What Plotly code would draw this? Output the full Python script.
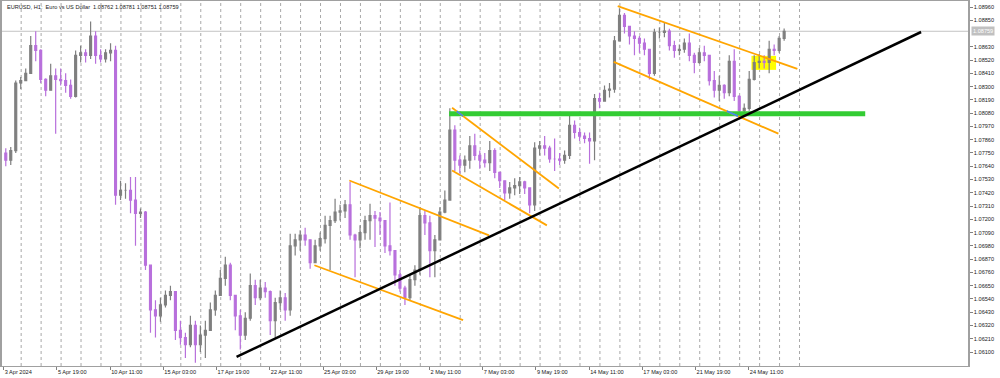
import plotly.graph_objects as go

# ---------------- data ----------------
chart_title = "EURUSD, H1:\u00a0\u00a0Euro vs US Dollar\u00a0\u00a01.08762 1.08781 1.08751 1.08759"
h1_per_candle = 6          # each drawn candle aggregates six H1 bars

first_open = 1.0775
close = [
    1.0769, 1.0777, 1.0833, 1.0835, 1.0841, 1.0864, 1.0860, 1.0836, 1.0827, 1.0839,
    1.0836, 1.0835, 1.0831, 1.0822, 1.0856, 1.0858, 1.0856, 1.0872, 1.0856, 1.0853,
    1.0858, 1.0860, 1.0740, 1.0744, 1.0744, 1.0736, 1.0725, 1.0726, 1.0682, 1.0645,
    1.0640, 1.0649, 1.0657, 1.0660, 1.0628, 1.0622, 1.0616, 1.0632, 1.0616, 1.0624,
    1.0628, 1.0645, 1.0657, 1.0671, 1.0682, 1.0657, 1.0640, 1.0624, 1.0638, 1.0665,
    1.0655, 1.0663, 1.0660, 1.0636, 1.0651, 1.0655, 1.0645, 1.0698, 1.0703, 1.0707,
    1.0703, 1.0684, 1.0698, 1.0704, 1.0715, 1.0719, 1.0726, 1.0727, 1.0732, 1.0707,
    1.0703, 1.0709, 1.0719, 1.0723, 1.0721, 1.0719, 1.0698, 1.0694, 1.0674, 1.0663,
    1.0655, 1.0670, 1.0678, 1.0723, 1.0717, 1.0694, 1.0703, 1.0726, 1.0736, 1.0794,
    1.0769, 1.0765, 1.0769, 1.0781, 1.0773, 1.0769, 1.0767, 1.0777, 1.0759, 1.0752,
    1.0742, 1.0746, 1.0748, 1.0751, 1.0746, 1.0732, 1.0779, 1.0781, 1.0779, 1.0770,
    1.0770, 1.0769, 1.0773, 1.0798, 1.0792, 1.0789, 1.0787, 1.0785, 1.0820, 1.0818,
    1.0827, 1.0828, 1.0868, 1.0889, 1.0880, 1.0872, 1.0870, 1.0866, 1.0861, 1.0841,
    1.0875, 1.0875, 1.0876, 1.0864, 1.0860, 1.0861, 1.0866, 1.0856, 1.0850, 1.0858,
    1.0856, 1.0835, 1.0827, 1.0831, 1.0825, 1.0851, 1.0822, 1.0810, 1.0812, 1.0836,
    1.0850, 1.0851, 1.0850, 1.0861, 1.0860, 1.0870, 1.08759]
high = [
    1.0779, 1.0780, 1.0835, 1.0838, 1.0845, 1.0872, 1.0876, 1.0861, 1.0837, 1.0849,
    1.0845, 1.0845, 1.0841, 1.0836, 1.0860, 1.0864, 1.0861, 1.0884, 1.0876, 1.0861,
    1.0861, 1.0866, 1.0864, 1.0752, 1.0750, 1.0755, 1.0755, 1.0729, 1.0727, 1.0682,
    1.0653, 1.0655, 1.0661, 1.0665, 1.0660, 1.0636, 1.0626, 1.0640, 1.0636, 1.0632,
    1.0636, 1.0651, 1.0661, 1.0678, 1.0689, 1.0684, 1.0657, 1.0645, 1.0643, 1.0675,
    1.0670, 1.0670, 1.0668, 1.0661, 1.0655, 1.0661, 1.0659, 1.0708, 1.0708, 1.0711,
    1.0713, 1.0703, 1.0703, 1.0709, 1.0723, 1.0723, 1.0737, 1.0732, 1.0736, 1.0751,
    1.0708, 1.0715, 1.0723, 1.0733, 1.0727, 1.0726, 1.0719, 1.0734, 1.0694, 1.0678,
    1.0665, 1.0674, 1.0682, 1.0730, 1.0727, 1.0723, 1.0707, 1.0730, 1.0744, 1.0812,
    1.0798, 1.0773, 1.0773, 1.0789, 1.0791, 1.0777, 1.0775, 1.0785, 1.0779, 1.0759,
    1.0752, 1.0751, 1.0754, 1.0755, 1.0752, 1.0746, 1.0784, 1.0785, 1.0789, 1.0781,
    1.0787, 1.0775, 1.0777, 1.0806, 1.0802, 1.0796, 1.0792, 1.0792, 1.0824, 1.0825,
    1.0831, 1.0833, 1.0872, 1.0895, 1.0891, 1.0880, 1.0876, 1.0872, 1.0870, 1.0861,
    1.0878, 1.0879, 1.0883, 1.0878, 1.0868, 1.0865, 1.0870, 1.0874, 1.0858, 1.0862,
    1.0864, 1.0856, 1.0843, 1.0839, 1.0832, 1.0856, 1.0861, 1.0823, 1.0816, 1.0843,
    1.0856, 1.0857, 1.0856, 1.0868, 1.0865, 1.0872, 1.08781]
low = [
    1.0764, 1.0765, 1.0775, 1.0828, 1.0835, 1.0841, 1.0851, 1.0833, 1.0822, 1.0828,
    1.0791, 1.0831, 1.0825, 1.0820, 1.0821, 1.0850, 1.0850, 1.0853, 1.0849, 1.0850,
    1.0850, 1.0851, 1.0732, 1.0736, 1.0737, 1.0725, 1.0698, 1.0721, 1.0678, 1.0626,
    1.0622, 1.0635, 1.0647, 1.0653, 1.0620, 1.0616, 1.0605, 1.0614, 1.0601, 1.0610,
    1.0605, 1.0628, 1.0640, 1.0657, 1.0665, 1.0653, 1.0628, 1.0612, 1.0620, 1.0636,
    1.0649, 1.0653, 1.0655, 1.0624, 1.0622, 1.0645, 1.0636, 1.0640, 1.0690, 1.0694,
    1.0698, 1.0679, 1.0684, 1.0694, 1.0700, 1.0678, 1.0717, 1.0719, 1.0721, 1.0703,
    1.0672, 1.0696, 1.0703, 1.0703, 1.0697, 1.0707, 1.0692, 1.0690, 1.0665, 1.0660,
    1.0649, 1.0653, 1.0665, 1.0674, 1.0707, 1.0672, 1.0672, 1.0703, 1.0725, 1.0736,
    1.0760, 1.0758, 1.0759, 1.0762, 1.0769, 1.0762, 1.0763, 1.0760, 1.0754, 1.0746,
    1.0736, 1.0737, 1.0740, 1.0741, 1.0741, 1.0725, 1.0727, 1.0773, 1.0773, 1.0767,
    1.0760, 1.0765, 1.0766, 1.0770, 1.0787, 1.0785, 1.0783, 1.0766, 1.0769, 1.0812,
    1.0818, 1.0821, 1.0825, 1.0868, 1.0874, 1.0865, 1.0856, 1.0858, 1.0856, 1.0836,
    1.0839, 1.0870, 1.0871, 1.0860, 1.0854, 1.0856, 1.0858, 1.0851, 1.0841, 1.0849,
    1.0851, 1.0831, 1.0821, 1.0818, 1.0820, 1.0822, 1.0818, 1.0806, 1.0806, 1.0810,
    1.0835, 1.0845, 1.0845, 1.0841, 1.0856, 1.0858, 1.0868]
last_price = 1.08759

x_tick_labels = ["3 Apr 2024", "5 Apr 19:00", "10 Apr 11:00", "15 Apr 03:00", "17 Apr 19:00",
                 "22 Apr 11:00", "25 Apr 03:00", "29 Apr 19:00", "2 May 11:00", "7 May 03:00",
                 "9 May 19:00", "14 May 11:00", "17 May 03:00", "21 May 19:00", "24 May 11:00"]
x_tick_bars = [0, 64, 128, 192, 256, 320, 384, 448, 512, 576, 640, 704, 768, 832, 896]
day_start_bars = [21 + 24 * d for d in range(40)]   # H1 index of each 00:00

y_tick_labels = ["1.08960", "1.08850", "1.08630", "1.08520", "1.08410", "1.08300", "1.08190",
                 "1.08080", "1.07970", "1.07860", "1.07750", "1.07640", "1.07530", "1.07420",
                 "1.07310", "1.07200", "1.07090", "1.06980", "1.06870", "1.06760", "1.06650",
                 "1.06540", "1.06430", "1.06320", "1.06210", "1.06100"]

# drawn objects: (H1 bar index, price) anchor points
black_trend = [(280.0, 1.06059), (1103.2, 1.08753)]
orange_lines = [
    [(415.6, 1.07522), (583.6, 1.07067)],
    [(373.6, 1.06819), (552.4, 1.06365)],
    [(539.2, 1.08125), (667.6, 1.07456)],
    [(539.2, 1.07604), (653.2, 1.07150)],
    [(738.4, 1.08968), (954.4, 1.08448)],
    [(733.6, 1.08505), (931.6, 1.07910)],
]
green_level = 1.08076
green_span = (535.6, 1036.0)
yellow_box = [(899.2, 1.08439), (928.8, 1.08555)]

# ---------------- build ----------------
n = len(close)
x = [h1_per_candle * k + 2.5 for k in range(n)]
opens = [first_open] + close[:-1]
hi = [max(h, o, c) for h, o, c in zip(high, opens, close)]
lo = [min(l, o, c) for l, o, c in zip(low, opens, close)]

bull = "#7f7f7f"
bear = "#b870dc"
fig = go.Figure(go.Candlestick(
    x=x, open=opens, high=hi, low=lo, close=close,
    increasing=dict(line=dict(color=bull, width=1.2), fillcolor=bull),
    decreasing=dict(line=dict(color=bear, width=1.2), fillcolor=bear),
    whiskerwidth=0, hoverinfo="skip", showlegend=False))

y_lo, y_hi = 1.05984, 1.09010
x_lo, x_hi = -2.04, 1159.6
px_per_price = 366 / (y_hi - y_lo)

shapes = []
for b in day_start_bars:
    shapes.append(dict(type="line", xref="x", yref="paper", x0=b, x1=b, y0=0, y1=1,
                       line=dict(color="#a8a8a8", width=1, dash="dot"), layer="below"))
# yellow rectangle (background)
shapes.append(dict(type="rect", xref="x", yref="y", x0=yellow_box[0][0], x1=yellow_box[1][0],
                   y0=yellow_box[0][1], y1=yellow_box[1][1], fillcolor="#ffff00",
                   line=dict(width=0), layer="below"))
# current price line
shapes.append(dict(type="line", xref="paper", yref="y", x0=0, x1=1, y0=last_price, y1=last_price,
                   line=dict(color="#c4c4c4", width=1), layer="below"))
# green level
shapes.append(dict(type="line", xref="x", yref="y", x0=green_span[0], x1=green_span[1],
                   y0=green_level, y1=green_level, line=dict(color="#33cc33", width=5)))
# orange channel lines
half_band = 2.5 / px_per_price
for (xa, ya), (xb, yb) in orange_lines:
    shapes.append(dict(type="line", xref="x", yref="y", x0=xa, y0=ya, x1=xb, y1=yb,
                       line=dict(color="#ffa500", width=1.8)))
    # section of the line lying inside the green band shows as blue
    top, bot = green_level + half_band, green_level - half_band
    if min(ya, yb) < top and max(ya, yb) > bot and xa < green_span[1]:
        def at(p):
            t = (p - ya) / (yb - ya)
            t = max(0.0, min(1.0, t))
            return xa + t * (xb - xa), ya + t * (yb - ya)
        p1, p2 = at(top), at(bot)
        shapes.append(dict(type="line", xref="x", yref="y", x0=p1[0], y0=p1[1], x1=p2[0], y1=p2[1],
                           line=dict(color="#3a8fe8", width=1.8)))
# black trend line
shapes.append(dict(type="line", xref="x", yref="y", x0=black_trend[0][0], y0=black_trend[0][1],
                   x1=black_trend[1][0], y1=black_trend[1][1], line=dict(color="#000000", width=2.5)))

font_small = dict(family="Liberation Sans, Arial, sans-serif", size=5.6, color="#202020")

annotations = [
    dict(text=chart_title, xref="paper", yref="paper", x=0.003, y=0.997, xanchor="left",
         yanchor="top", showarrow=False, font=font_small),
    dict(text=f"{last_price:.5f}", xref="paper", yref="y", x=1, xshift=3, y=last_price,
         xanchor="left", yanchor="middle", showarrow=False, bgcolor="#c0c0c0",
         borderpad=1, font=dict(family="Liberation Sans, Arial, sans-serif", size=5.6, color="#ffffff")),
]

fig.update_layout(
    width=1000, height=378,
    margin=dict(l=0, r=32, t=0, b=12),
    paper_bgcolor="white", plot_bgcolor="white",
    boxgap=0.45,
    shapes=shapes, annotations=annotations,
    showlegend=False,
    xaxis=dict(range=[x_lo, x_hi], rangeslider=dict(visible=False), showgrid=False, zeroline=False,
               tickmode="array", tickvals=x_tick_bars, ticktext=x_tick_labels,
               ticks="outside", ticklen=3, tickcolor="#808080", tickangle=0,
               ticklabelposition="outside right", tickfont=font_small,
               showline=True, linecolor="#a0a0a0", linewidth=1, mirror=True, fixedrange=True),
    yaxis=dict(range=[y_lo, y_hi], side="right", showgrid=False, zeroline=False,
               tickmode="array", tickvals=[float(t) for t in y_tick_labels], ticktext=y_tick_labels,
               ticks="outside", ticklen=3, tickcolor="#808080", tickfont=font_small,
               showline=True, linecolor="#a0a0a0", linewidth=1.5, mirror=True, fixedrange=True),
)

fig.write_html("out.html", config={"displayModeBar": False},
               post_script="document.body.style.margin='0px';document.body.style.overflow='hidden';")
